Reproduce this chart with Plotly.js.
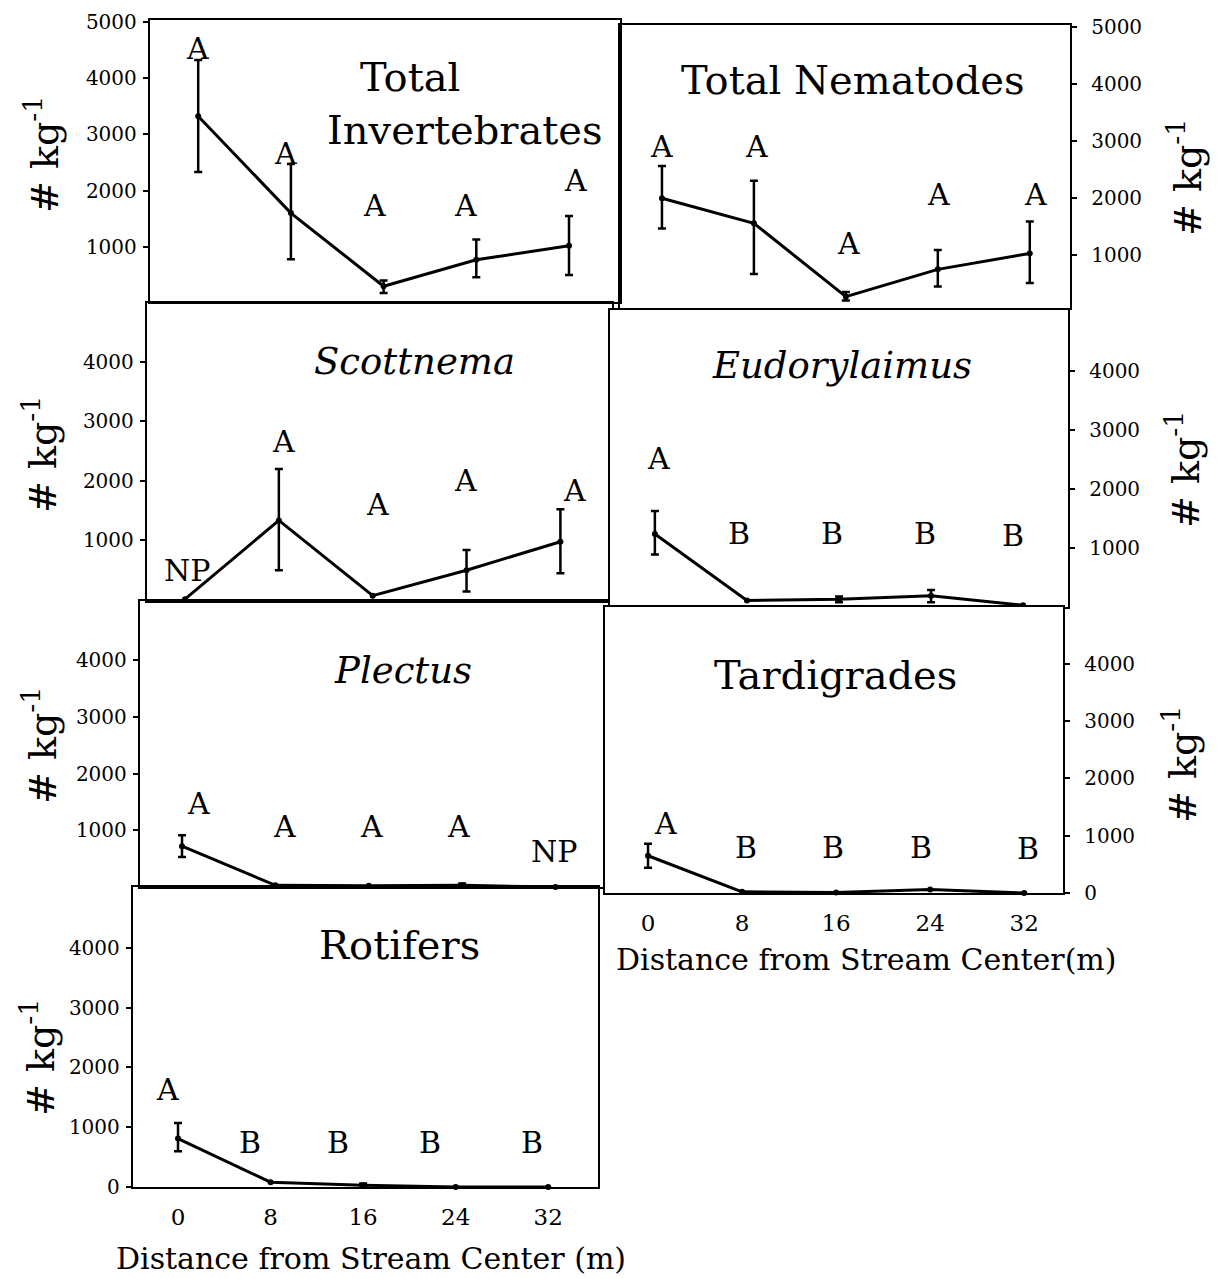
<!DOCTYPE html>
<html>
<head>
<meta charset="utf-8">
<script src="https://cdn.plot.ly/plotly-3.0.1.min.js"></script>
<style>html,body{margin:0;padding:0;background:#fff;}#chart{width:1222px;height:1279px;}</style>
</head>
<body>
<div id="chart"></div>
<script>
// ---------- DATA ----------
const distance = [0, 8, 16, 24, 32];
const distanceTicks = ['0', '8', '16', '24', '32'];

const totalInvMean = [3320, 1600, 300, 770, 1020];
const totalInvHi   = [4320, 2470, 400, 1130, 1550];
const totalInvLo   = [2330, 780, 180, 460, 500];
const totalInvLetters = ['A', 'A', 'A', 'A', 'A'];
const totalInvLetterX = [-0.1, 7.5, 15.2, 23.1, 32.6];
const totalInvLetterY = [4520, 2650, 1740, 1740, 2180];

const totalNemMean = [1990, 1550, 260, 740, 1020];
const totalNemHi   = [2560, 2300, 340, 1080, 1580];
const totalNemLo   = [1460, 660, 190, 440, 500];
const totalNemLetters = ['A', 'A', 'A', 'A', 'A'];
const totalNemLetterX = [0, 8.2, 16.2, 24.1, 32.5];
const totalNemLetterY = [2910, 2910, 1190, 2060, 2060];

const scottMean = [0, 1330, 60, 490, 970];
const scottHi   = [null, 2200, null, 830, 1520];
const scottLo   = [null, 490, null, 130, 440];
const scottLetters = ['NP', 'A', 'A', 'A', 'A'];
const scottLetterX = [0.2, 8.4, 16.4, 23.9, 33.2];
const scottLetterY = [480, 2670, 1600, 2000, 1830];

const eudoMean = [1240, 110, 130, 190, 30];
const eudoHi   = [1630, null, 180, 290, null];
const eudoLo   = [890, null, 80, 80, null];
const eudoLetters = ['A', 'B', 'B', 'B', 'B'];
const eudoLetterX = [0.3, 7.3, 15.4, 23.5, 31.1];
const eudoLetterY = [2520, 1250, 1250, 1250, 1220];

const plectusMean = [720, 30, 20, 30, 0];
const plectusHi   = [910, null, null, 60, null];
const plectusLo   = [530, null, null, 0, null];
const plectusLetters = ['A', 'A', 'A', 'A', 'NP'];
const plectusLetterX = [1.4, 8.8, 16.2, 23.7, 31.9];
const plectusLetterY = [1480, 1060, 1060, 1060, 620];

const tardMean = [650, 20, 10, 60, 0];
const tardHi   = [860, null, null, null, null];
const tardLo   = [440, null, null, null, null];
const tardLetters = ['A', 'B', 'B', 'B', 'B'];
const tardLetterX = [1.5, 8.3, 15.7, 23.2, 32.3];
const tardLetterY = [1220, 800, 800, 800, 780];

const rotMean = [810, 80, 30, 0, 0];
const rotHi   = [1070, null, 60, null, null];
const rotLo   = [600, null, 0, null, null];
const rotLetters = ['A', 'B', 'B', 'B', 'B'];
const rotLetterX = [-0.87, 6.2, 13.8, 21.8, 30.6];
const rotLetterY = [1630, 750, 750, 750, 750];

const yTitle = '# kg<sup>-1</sup>';
const xTitleLeft = 'Distance from Stream Center (m)';
const xTitleRight = 'Distance from Stream Center(m)';

// ---------- LAYOUT CONFIG (positions in page pixels) ----------
const W = 1222, H = 1279;
const FONT = 'DejaVu Serif, Liberation Serif, serif';
const panels = [
  {mean: totalInvMean, hi: totalInvHi, lo: totalInvLo, L: totalInvLetters, LX: totalInvLetterX, LY: totalInvLetterY,
   box: [150, 620, 20, 302], xr: [-4.16, 36.4], yr: [20, 5030], yt: [1000, 2000, 3000, 4000, 5000], side: 'left', xlab: false,
   titles: [{t: 'Total', x: 410, y: 77}, {t: 'Invertebrates', x: 465, y: 130}], italic: false, ytitle: {x: 42, y: 155}},
  {mean: totalNemMean, hi: totalNemHi, lo: totalNemLo, L: totalNemLetters, LX: totalNemLetterX, LY: totalNemLetterY,
   box: [620, 1070, 25, 308], xr: [-3.65, 35.5], yr: [60, 5040], yt: [1000, 2000, 3000, 4000, 5000], side: 'right', xlab: false,
   titles: [{t: 'Total Nematodes', x: 853, y: 80}], italic: false, ytitle: {x: 1185, y: 178}},
  {mean: scottMean, hi: scottHi, lo: scottLo, L: scottLetters, LX: scottLetterX, LY: scottLetterY,
   box: [147, 612, 303, 601], xr: [-3.24, 36.4], yr: [-30, 5000], yt: [1000, 2000, 3000, 4000], side: 'left', xlab: false,
   titles: [{t: 'Scottnema', x: 414, y: 362}], italic: true, ytitle: {x: 40, y: 455}},
  {mean: eudoMean, hi: eudoHi, lo: eudoLo, L: eudoLetters, LX: eudoLetterX, LY: eudoLetterY,
   box: [610, 1068, 310, 607], xr: [-3.9, 35.9], yr: [0, 5040], yt: [1000, 2000, 3000, 4000], side: 'right', xlab: false,
   titles: [{t: 'Eudorylaimus', x: 842, y: 366}], italic: true, ytitle: {x: 1183, y: 470}},
  {mean: plectusMean, hi: plectusHi, lo: plectusLo, L: plectusLetters, LX: plectusLetterX, LY: plectusLetterY,
   box: [140, 608, 601, 887], xr: [-3.6, 36.5], yr: [0, 5040], yt: [1000, 2000, 3000, 4000], side: 'left', xlab: false,
   titles: [{t: 'Plectus', x: 403, y: 670}], italic: true, ytitle: {x: 40, y: 746}},
  {mean: tardMean, hi: tardHi, lo: tardLo, L: tardLetters, LX: tardLetterX, LY: tardLetterY,
   box: [605, 1063, 607, 893], xr: [-3.66, 35.3], yr: [0, 4990], yt: [0, 1000, 2000, 3000, 4000], side: 'right', xlab: true,
   titles: [{t: 'Tardigrades', x: 835, y: 675}], italic: false, ytitle: {x: 1180, y: 765},
   xtitle: {t: xTitleRight, x: 866, y: 959}},
  {mean: rotMean, hi: rotHi, lo: rotLo, L: rotLetters, LX: rotLetterX, LY: rotLetterY,
   box: [133, 598, 887, 1187], xr: [-3.89, 36.3], yr: [0, 5020], yt: [0, 1000, 2000, 3000, 4000], side: 'left', xlab: true,
   titles: [{t: 'Rotifers', x: 399, y: 945}], italic: false, ytitle: {x: 38, y: 1058},
   xtitle: {t: xTitleLeft, x: 371, y: 1258}}
];

const px = v => v / W;
const py = v => 1 - v / H;

const traces = [];
const layout = {
  width: W, height: H,
  margin: {l: 0, r: 0, t: 0, b: 0},
  paper_bgcolor: '#fff', plot_bgcolor: '#fff',
  showlegend: false,
  font: {family: FONT, color: '#000'},
  annotations: []
};

panels.forEach((p, i) => {
  const n = i === 0 ? '' : String(i + 1);
  const xa = 'x' + n, ya = 'y' + n;
  const [L, R, T, B] = p.box;
  const up = p.mean.map((m, k) => p.hi[k] == null ? NaN : p.hi[k] - m);
  const dn = p.mean.map((m, k) => p.lo[k] == null ? NaN : m - p.lo[k]);
  traces.push({
    type: 'scatter', mode: 'lines+markers', x: distance, y: p.mean, xaxis: xa, yaxis: ya,
    line: {color: '#000', width: 3}, marker: {color: '#000', size: 6},
    error_y: {type: 'data', symmetric: false, array: up, arrayminus: dn, color: '#000', thickness: 2.5, width: 4},
    hoverinfo: 'x+y', cliponaxis: false
  });
  layout['xaxis' + n] = {
    domain: [px(L), px(R)], range: p.xr, anchor: ya,
    showline: true, mirror: true, linecolor: '#000', linewidth: 2.2,
    showgrid: false, zeroline: false, ticks: '',
    tickvals: distance, ticktext: distanceTicks, showticklabels: p.xlab,
    tickfont: {family: FONT, size: 23, color: '#000'}, ticklabelstandoff: 8
  };
  layout['yaxis' + n] = {
    domain: [py(B), py(T)], range: p.yr, anchor: xa, side: p.side,
    showline: true, mirror: true, linecolor: '#000', linewidth: 2.2,
    showgrid: false, zeroline: false, ticks: 'outside', ticklen: 5, tickwidth: 2, tickcolor: '#000',
    tickvals: p.yt, ticktext: p.yt.map(String),
    tickfont: {family: FONT, size: 20, color: '#000'},
    ticklabelstandoff: p.side === 'right' ? 10 : 2
  };
  // significance letters
  p.L.forEach((s, k) => {
    layout.annotations.push({
      xref: xa, yref: ya, x: p.LX[k], y: p.LY[k], text: s, showarrow: false,
      font: {family: FONT, size: 30, color: '#000'}, xanchor: 'center', yanchor: 'middle'
    });
  });
  // panel titles
  p.titles.forEach(t => {
    layout.annotations.push({
      xref: 'paper', yref: 'paper', x: px(t.x), y: py(t.y),
      text: p.italic ? '<i>' + t.t + '</i>' : t.t, showarrow: false,
      font: {family: FONT, size: p.italic ? 37 : 40, color: '#000'}, xanchor: 'center', yanchor: 'middle'
    });
  });
  // y axis title
  layout.annotations.push({
    xref: 'paper', yref: 'paper', x: px(p.ytitle.x), y: py(p.ytitle.y), text: yTitle,
    showarrow: false, textangle: -90, font: {family: FONT, size: 38, color: '#000'},
    xanchor: 'center', yanchor: 'middle'
  });
  if (p.xtitle) {
    layout.annotations.push({
      xref: 'paper', yref: 'paper', x: px(p.xtitle.x), y: py(p.xtitle.y), text: p.xtitle.t,
      showarrow: false, font: {family: FONT, size: 30, color: '#000'},
      xanchor: 'center', yanchor: 'middle'
    });
  }
});

Plotly.newPlot('chart', traces, layout, {displayModeBar: false, staticPlot: true});
</script>
</body>
</html>
